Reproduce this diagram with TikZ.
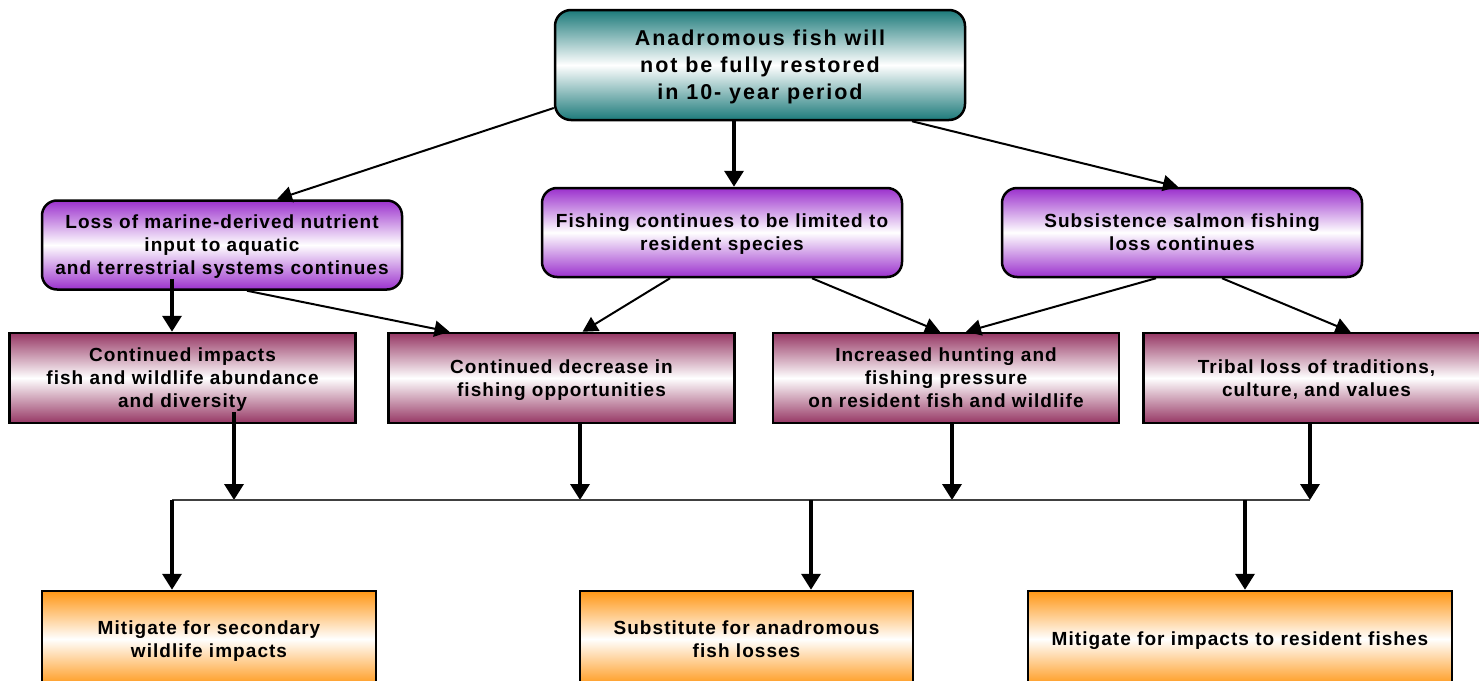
\documentclass[tikz,border=0pt]{standalone}
\usepackage{fontspec}
\setmainfont{Liberation Sans}[LetterSpace=5.5]
\newfontfamily\topfont{Liberation Sans}[LetterSpace=9]
\usepackage{tikz}
\usetikzlibrary{
  arrows.meta,
  calc}

\definecolor{tealtop}{RGB}{28,122,122}
\definecolor{purplebox}{RGB}{155,48,205}
\definecolor{maroonbox}{RGB}{150,55,100}
\definecolor{orangebox}{RGB}{255,150,20}

\tikzset{
  box/.style={draw=black, line width=2.5pt, align=center, inner sep=2pt, text depth=0pt,
    font=\bfseries\fontsize{19}{23}\selectfont},
  topbox/.style={box, rounded corners=16pt, minimum width=410pt, minimum height=110pt,
    top color=tealtop, bottom color=tealtop, middle color=white,
    font=\topfont\bfseries\fontsize{21.5}{27}\selectfont},
  causebox/.style={box, rounded corners=15pt, minimum width=360pt, minimum height=89pt,
    top color=purplebox, bottom color=purplebox, middle color=white},
  effectbox/.style={box, minimum width=346pt, minimum height=90pt,
    top color=maroonbox, bottom color=maroonbox, middle color=white},
  actionbox/.style={box, minimum height=96pt,
    top color=orangebox, bottom color=orangebox, middle color=white},
  slant/.style={line width=2pt, -{Triangle[width=16pt,length=15pt]}},
  down/.style={line width=3.5pt, -{Triangle[width=19pt,length=16pt]}},
  bus/.style={line width=1.5pt, draw=black!75}
}

\begin{document}
\begin{tikzpicture}[x=1pt, y=-1pt]
\useasboundingbox (0,0) rectangle (1479,680);
\clip (0,0) rectangle (1479,680);

\node[topbox] (anadro) at (760,65) {Anadromous fish will\\not be fully restored\\in 10- year period};

\node[causebox] (nutrient) at (222,245) {Loss of marine-derived nutrient\\input to aquatic\\and terrestrial systems continues};
\node[causebox] (resident) at (722,232.5) {Fishing continues to be limited to\\resident species};
\node[causebox] (subsist) at (1182,232.5) {Subsistence salmon fishing\\loss continues};

\node[effectbox] (abund) at (182.5,378) {Continued impacts\\fish and wildlife abundance\\and diversity};
\node[effectbox] (decrease) at (561.5,378) {Continued decrease in\\fishing opportunities};
\node[effectbox] (pressure) at (946,378) {Increased hunting and\\fishing pressure\\on resident fish and wildlife};
\node[effectbox] (tribal) at (1316.5,378) {Tribal loss of traditions,\\culture, and values};

\node[actionbox, minimum width=334pt] (secondary) at (209,639) {Mitigate for secondary\\wildlife impacts};
\node[actionbox, minimum width=333pt] (substitute) at (746.5,639) {Substitute for anadromous\\fish losses};
\node[actionbox, minimum width=424pt] (residentfish) at (1240,639) {Mitigate for impacts to resident fishes};

\coordinate (j1) at (234,500);
\coordinate (j2) at (580,500);
\coordinate (j3) at (952,500);
\coordinate (j4) at (1310,500);
\coordinate (d1) at (172,500);
\coordinate (d2) at (811,500);
\coordinate (d3) at (1245,500);

\draw[slant] ($(anadro.west)+(0,43)$) -- ($(nutrient.north)+(55,0)$);
\draw[down] ($(anadro.south)+(-26,0)$) -- ($(resident.north)+(12,0)$);
\draw[slant] ($(anadro.south)+(152,0)$) -- ($(subsist.north)+(-4,0)$);

\draw[down] ($(nutrient.south)+(-50,-12)$) -- ($(abund.north)+(-10.5,0)$);
\draw[slant] ($(nutrient.south)+(25,0)$) -- ($(decrease.north)+(-112,0)$);
\draw[slant] ($(resident.south)+(-52,0)$) -- ($(decrease.north)+(21,0)$);
\draw[slant] ($(resident.south)+(90,0)$) -- ($(pressure.north)+(-6,0)$);
\draw[slant] ($(subsist.south)+(-26,0)$) -- ($(pressure.north)+(20,0)$);
\draw[slant] ($(subsist.south)+(40,0)$) -- ($(tribal.north)+(34,0)$);

\draw[down] ($(abund.south -| j1)+(0,-12)$) -- (j1);
\draw[down] (decrease.south -| j2) -- (j2);
\draw[down] (pressure.south -| j3) -- (j3);
\draw[down] (tribal.south -| j4) -- (j4);

\draw[bus] (d1) -- (j4);

\draw[down] (d1) -- (secondary.north -| d1);
\draw[down] (d2) -- (substitute.north -| d2);
\draw[down] (d3) -- (residentfish.north -| d3);

\end{tikzpicture}
\end{document}
